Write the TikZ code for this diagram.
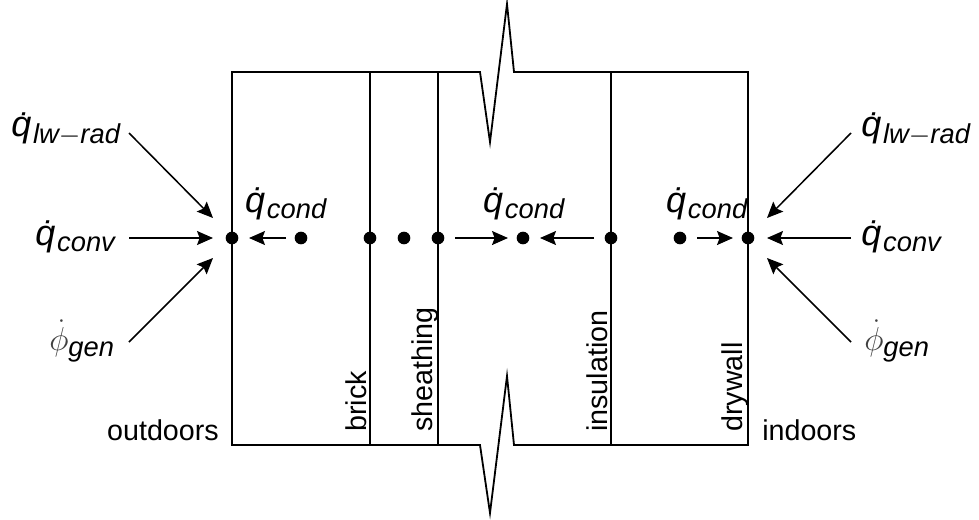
\documentclass[tikz,border=0pt]{standalone}
\usepackage{fontspec}
\setmainfont{Liberation Sans}
\usetikzlibrary{arrows.meta}
\newcommand{\qq}[1]{{\fontsize{27}{29}\selectfont\textit{\.q}}\raisebox{-0.4ex}{\fontsize{20.5}{23}\selectfont\textit{#1}}}
\newcommand{\phigen}{{\fontsize{27}{29}\selectfont\color{black!75}$\dot{\phi}$}\raisebox{-0.4ex}{\fontsize{20.5}{23}\selectfont\textit{gen}}}
\begin{document}
\begin{tikzpicture}[x=0.75pt,y=-0.75pt,
  wall/.style={line width=1.35pt},
  arr/.style={line width=1.15pt,-{Stealth[length=12pt,width=10.5pt,inset=2pt]}},
  dotn/.style={circle,fill=black,inner sep=0pt,minimum size=9.5pt},
  lbl/.style={inner sep=0pt,font=\fontsize{21.5}{24}\selectfont},
  vlbl/.style={inner sep=0pt,font=\fontsize{21.5}{24}\selectfont,rotate=90,anchor=west}]
\useasboundingbox (0,0) rectangle (979,519);
% walls
\draw[wall] (232,72) -- (232,445) -- (480,445) -- (490,513) -- (507,376) -- (514,445) -- (748,445) -- (748,72) -- (514,72) -- (507,4) -- (490,142) -- (480,72) -- cycle;
\draw[wall] (370,72) -- (370,445);
\draw[wall] (438,72) -- (438,445);
\draw[wall] (611,72) -- (611,445);
% dots
\node[dotn] (d1) at (232,238) {};
\node[dotn] (d2) at (301,238) {};
\node[dotn] (d3) at (370,238) {};
\node[dotn] (d4) at (404,238) {};
\node[dotn] (d5) at (438,238) {};
\node[dotn] (d6) at (523,238) {};
\node[dotn] (d7) at (611,238) {};
\node[dotn] (d8) at (680,238) {};
\node[dotn] (d9) at (748,238) {};
% internal arrows
\coordinate (a1s) at (286,238); \coordinate (a1e) at (249,238);
\coordinate (a2s) at (455,238); \coordinate (a2e) at (508,238);
\coordinate (a3s) at (594,238); \coordinate (a3e) at (540,238);
\coordinate (a4s) at (697,238); \coordinate (a4e) at (733,238);
\draw[arr] (a1s) -- (a1e);
\draw[arr] (a2s) -- (a2e);
\draw[arr] (a3s) -- (a3e);
\draw[arr] (a4s) -- (a4e);
% cond labels
\node[lbl] (c1) at (286,204) {\qq{cond}};
\node[lbl] (c2) at (524,204) {\qq{cond}};
\node[lbl] (c3) at (707,204) {\qq{cond}};
% left external
\node[lbl,anchor=west] (l1) at (11,129) {\qq{lw$-$rad}};
\node[lbl,anchor=west] (l2) at (35,237) {\qq{conv}};
\node[lbl,anchor=west] (l3) at (49,341) {\phigen};
\coordinate (l1s) at (129,133); \coordinate (l1e) at (213,218);
\coordinate (l2s) at (129,238); \coordinate (l2e) at (213,238);
\coordinate (l3s) at (129,342); \coordinate (l3e) at (213,258);
\draw[arr] (l1s) -- (l1e);
\draw[arr] (l2s) -- (l2e);
\draw[arr] (l3s) -- (l3e);
% right external
\node[lbl,anchor=west] (r1) at (861,129) {\qq{lw$-$rad}};
\node[lbl,anchor=west] (r2) at (861,237) {\qq{conv}};
\node[lbl,anchor=west] (r3) at (864,341) {\phigen};
\coordinate (r1s) at (851,133); \coordinate (r1e) at (767,218);
\coordinate (r2s) at (851,238); \coordinate (r2e) at (767,238);
\coordinate (r3s) at (851,342); \coordinate (r3e) at (767,258);
\draw[arr] (r1s) -- (r1e);
\draw[arr] (r2s) -- (r2e);
\draw[arr] (r3s) -- (r3e);
% material labels
\node[vlbl] (brick) at (356,432) {brick};
\node[vlbl] (sheath) at (425,432) {sheathing};
\node[vlbl] (insul) at (597,432) {insulation};
\node[vlbl] (dry) at (735,432) {drywall};
\node[lbl,anchor=base east] (out) at (219,440) {outdoors};
\node[lbl,anchor=base west] (in) at (762,440) {indoors};
\end{tikzpicture}
\end{document}
